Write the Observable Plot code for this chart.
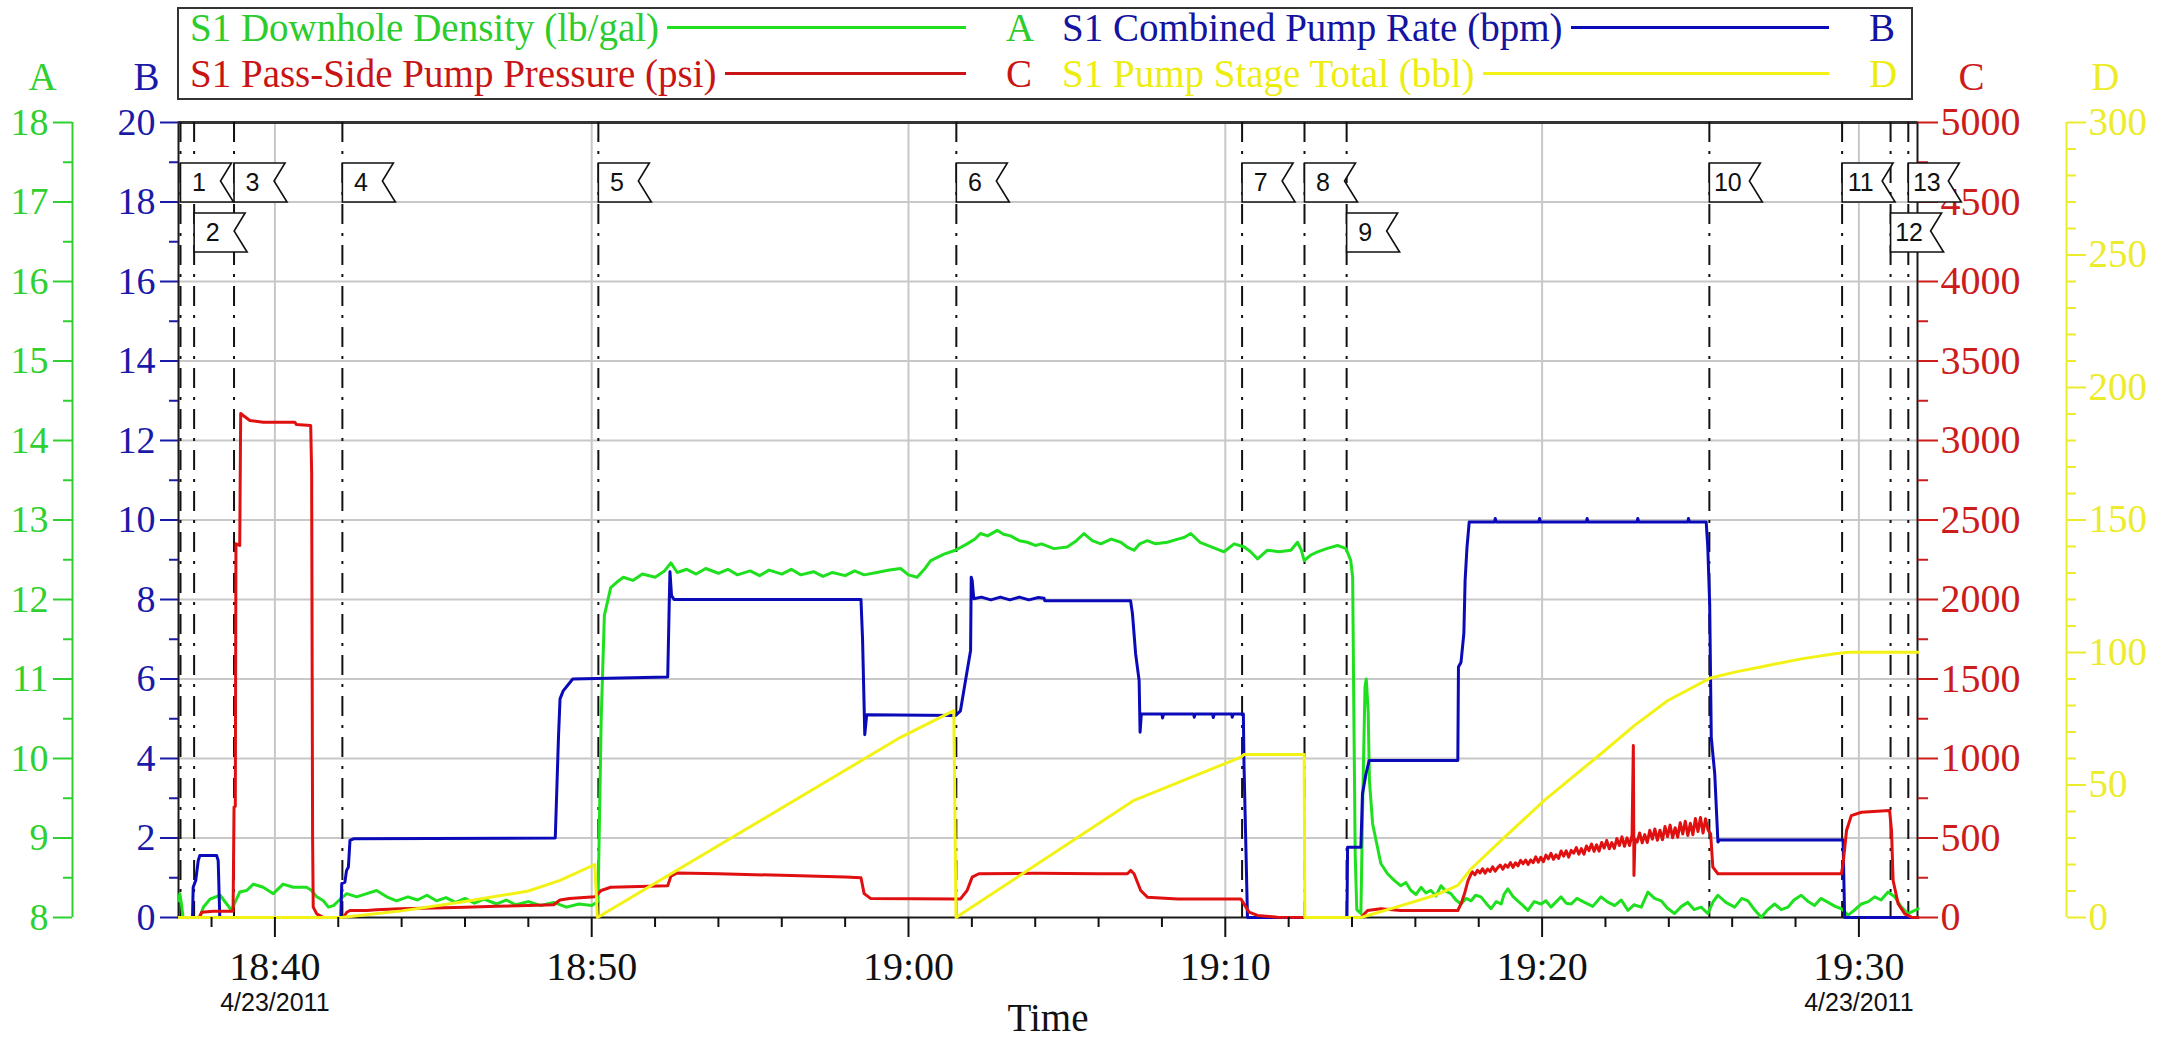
<!DOCTYPE html>
<html><head><meta charset="utf-8">
<script src="https://cdn.jsdelivr.net/npm/d3@7"></script>
<script src="https://cdn.jsdelivr.net/npm/@observablehq/plot@0.6"></script>
<style>
body{margin:0;background:#fff;}
#wrap{position:relative;width:2162px;height:1046px;overflow:hidden;font-family:"Liberation Serif","Times New Roman",serif;}
#legend{position:absolute;left:177px;top:7px;width:1736px;height:93px;border:2px solid #333;box-sizing:border-box;}
.cell{position:absolute;display:flex;align-items:center;height:46px;font-size:39px;white-space:nowrap;}
.cell .sw{flex:1;height:3px;margin:0 40px 0 8px;}
.cell .lt{width:24px;text-align:center;}
</style></head>
<body><div id="wrap"><div id="chart"></div><div id="legend"></div></div>
<script>
// ---- time helpers (minutes after 18:40 on 4/23/2011) ----
const T0 = Date.UTC(2011, 3, 23, 18, 40);
const tm = m => new Date(T0 + m * 60000);

// ---- tick labels ----
const timeTickLabels = ["18:40", "18:50", "19:00", "19:10", "19:20", "19:30"];
const dateLabel = "4/23/2011";
const rateTicks = [0, 2, 4, 6, 8, 10, 12, 14, 16, 18, 20];
const densityTicks = [8, 9, 10, 11, 12, 13, 14, 15, 16, 17, 18];
const pressureTicks = [0, 500, 1000, 1500, 2000, 2500, 3000, 3500, 4000, 4500, 5000];
const stageTicks = [0, 50, 100, 150, 200, 250, 300];

// ---- event markers ----
const eventLabels = ["1","2","3","4","5","6","7","8","9","10","11","12","13"];
const eventMinutes = [-2.98, -2.55, -1.29, 2.13, 10.21, 21.51, 30.53, 32.50, 33.83, 45.28, 49.47, 51.00, 51.56];
const eventRow = [1, 2, 1, 1, 1, 1, 1, 1, 2, 1, 1, 2, 1];

// ---- series: [minutes after 18:40, value] ----
const density = [ // S1 Downhole Density (lb/gal)
 [-3.04,8.21],[-3.0,8.30],[-2.95,8.17],[-2.9,8.0],[-2.37,8.0],[-2.26,8.13],[-2.05,8.23],[-1.73,8.28],[-1.52,8.17],[-1.37,8.09],
 [-1.26,8.19],[-1.11,8.32],[-0.89,8.34],[-0.68,8.42],[-0.37,8.38],[-0.05,8.30],[0.26,8.42],[0.58,8.38],[1.0,8.38],[1.16,8.34],
 [1.32,8.26],[1.53,8.21],[1.69,8.13],[1.85,8.15],[2.06,8.23],[2.27,8.30],[2.58,8.26],[2.90,8.30],[3.21,8.34],[3.53,8.26],[3.84,8.21],
 [4.2,8.26],[4.5,8.22],[4.8,8.28],[5.1,8.21],[5.4,8.25],[5.7,8.19],[6.0,8.24],[6.3,8.18],[6.6,8.23],[7.0,8.17],[7.3,8.22],[7.6,8.16],
 [8.0,8.2],[8.4,8.15],[8.8,8.19],[9.2,8.13],[9.6,8.17],[10.0,8.15],[10.2,8.2],[10.3,10.5],[10.4,11.8],[10.6,12.15],[10.8,12.22],
 [11.0,12.28],[11.3,12.24],[11.6,12.32],[12.0,12.28],[12.3,12.36],[12.5,12.46],[12.7,12.34],[13.0,12.38],[13.3,12.32],[13.6,12.39],
 [14.0,12.33],[14.3,12.38],[14.6,12.31],[15.0,12.36],[15.3,12.3],[15.6,12.37],[16.0,12.32],[16.3,12.38],[16.6,12.31],[17.0,12.35],
 [17.3,12.29],[17.6,12.34],[18.0,12.3],[18.3,12.36],[18.6,12.31],[19.0,12.34],[19.4,12.37],[19.75,12.39],[20.0,12.31],[20.27,12.28],
 [20.5,12.38],[20.70,12.49],[21.12,12.57],[21.48,12.62],[21.85,12.70],[22.1,12.76],[22.27,12.83],[22.5,12.8],[22.80,12.87],[23.0,12.82],
 [23.22,12.80],[23.5,12.74],[23.75,12.72],[24.0,12.68],[24.2,12.7],[24.59,12.64],[25.01,12.66],[25.3,12.74],[25.54,12.83],[25.8,12.74],
 [26.07,12.70],[26.4,12.76],[26.70,12.72],[26.9,12.66],[27.12,12.62],[27.3,12.7],[27.54,12.74],[27.8,12.7],[28.17,12.72],[28.5,12.76],
 [28.7,12.78],[28.91,12.83],[29.2,12.72],[29.44,12.68],[29.7,12.64],[29.96,12.60],[30.28,12.70],[30.6,12.66],[30.8,12.6],[31.02,12.51],
 [31.33,12.62],[31.7,12.6],[32.07,12.62],[32.28,12.72],[32.40,12.62],[32.49,12.49],[32.7,12.56],[32.91,12.60],[33.2,12.64],[33.54,12.68],
 [33.81,12.64],[33.96,12.49],[34.02,12.28],[34.06,10.5],[34.10,8.8],[34.15,8.1],[34.28,8.05],[34.34,9.5],[34.41,10.9],[34.45,11.0],
 [34.51,10.6],[34.55,9.72],[34.65,9.18],[34.91,8.68],[35.12,8.55],[35.35,8.46],[35.54,8.40],[35.7,8.44],[35.86,8.34],[36.02,8.29],
 [36.18,8.38],[36.33,8.31],[36.49,8.34],[36.65,8.27],[36.81,8.40],[36.96,8.33],[37.12,8.30],[37.28,8.22],[37.44,8.17],[37.6,8.24],
 [37.76,8.21],[37.9,8.28],[38.07,8.26],[38.23,8.18],[38.39,8.11],[38.55,8.2],[38.71,8.17],[38.8,8.29],[38.92,8.36],[39.07,8.27],
 [39.23,8.21],[39.4,8.15],[39.55,8.09],[39.75,8.2],[39.97,8.17],[40.12,8.21],[40.28,8.13],[40.45,8.2],[40.6,8.26],[40.76,8.18],
 [40.92,8.17],[41.1,8.24],[41.34,8.19],[41.6,8.14],[41.86,8.26],[42.05,8.2],[42.29,8.15],[42.5,8.22],[42.71,8.09],[42.9,8.16],
 [43.13,8.13],[43.34,8.32],[43.55,8.24],[43.76,8.21],[43.95,8.12],[44.18,8.05],[44.4,8.14],[44.6,8.19],[44.8,8.1],[45.02,8.13],
 [45.23,8.05],[45.4,8.2],[45.55,8.28],[45.8,8.19],[46.08,8.13],[46.3,8.24],[46.5,8.21],[46.7,8.1],[46.92,8.0],[47.1,8.09],
 [47.34,8.17],[47.55,8.1],[47.76,8.13],[47.95,8.22],[48.18,8.28],[48.4,8.2],[48.6,8.15],[48.8,8.24],[49.03,8.19],[49.25,8.14],
 [49.45,8.11],[49.66,8.03],[49.85,8.09],[50.08,8.17],[50.3,8.2],[50.5,8.26],[50.7,8.22],[50.92,8.32],[51.13,8.26],[51.34,8.13],
 [51.55,8.05],[51.87,8.11]
];
const rate = [ // S1 Combined Pump Rate (bpm)
 [-3.04,0],[-2.60,0],[-2.58,0.76],[-2.50,0.93],[-2.42,1.43],[-2.37,1.56],[-1.84,1.56],[-1.79,1.43],[-1.74,0],[2.08,0],[2.11,0.85],
 [2.21,0.89],[2.26,1.18],[2.32,1.27],[2.37,1.94],[2.48,1.98],[8.85,2.0],[8.95,4.5],[9.0,5.5],[9.1,5.7],[9.3,5.9],[9.4,6.0],[12.4,6.05],
 [12.45,8.0],[12.47,8.7],[12.52,8.1],[12.6,8.0],[18.5,8.0],[18.55,7.0],[18.62,4.6],[18.68,5.1],[21.48,5.08],[21.64,5.2],[21.80,5.96],
 [21.96,6.72],[21.98,8.56],[22.01,8.48],[22.06,8.02],[22.3,8.06],[22.6,7.99],[22.9,8.06],[23.2,7.99],[23.5,8.06],[23.8,7.99],[24.1,8.05],
 [24.28,8.03],[24.30,7.97],[27.01,7.97],[27.07,7.64],[27.17,6.63],[27.28,5.96],[27.31,4.66],[27.35,5.12],[28.0,5.12],[28.02,5.02],
 [28.05,5.12],[29.0,5.12],[29.02,5.04],[29.05,5.12],[29.6,5.12],[29.62,5.03],[29.65,5.12],[30.2,5.12],[30.22,5.04],[30.25,5.12],
 [30.57,5.12],[30.59,3.87],[30.65,1.77],[30.70,0],[33.84,0],[33.86,1.77],[34.28,1.77],[34.33,3.11],[34.44,3.61],[34.54,3.95],
 [37.34,3.95],[37.36,6.3],[37.44,6.42],[37.53,7.14],[37.57,8.48],[37.63,9.32],[37.70,9.95],[38.5,9.95],[38.52,10.04],[38.55,9.95],
 [39.9,9.95],[39.92,10.04],[39.95,9.95],[41.4,9.95],[41.42,10.04],[41.45,9.95],[43.0,9.95],[43.02,10.04],[43.05,9.95],[44.6,9.95],
 [44.62,10.04],[44.65,9.95],[45.18,9.95],[45.23,9.32],[45.29,7.89],[45.34,4.54],[45.45,3.61],[45.55,1.9],[45.6,1.95],[49.50,1.95],
 [49.55,0],[51.87,0]
];
const pressure = [ // S1 Pass-Side Pump Pressure (psi)
 [-3.04,0],[-2.39,0],[-2.31,33],[-1.95,40],[-1.32,40],[-1.29,694],[-1.25,700],[-1.23,2350],[-1.11,2340],[-1.08,3170],[-1.0,3157],
 [-0.79,3126],[-0.37,3115],[0.63,3115],[0.68,3100],[1.13,3094],[1.16,2800],[1.19,500],[1.21,65],[1.32,23],[1.53,0],[2.16,0],[2.27,33],
 [2.37,44],[2.90,44],[3.21,48],[3.95,55],[5,60],[6,65],[7,70],[8,75],[8.8,80],[9.0,110],[9.3,120],[10.1,130],[10.3,170],[10.6,190],
 [12.4,200],[12.5,260],[12.7,280],[14,275],[16,265],[18,255],[18.5,250],[18.6,150],[18.8,120],[21.48,117],[21.64,117],[21.85,170],
 [22.01,254],[22.22,275],[24,278],[26.0,275],[26.91,275],[27.01,296],[27.12,275],[27.33,170],[27.54,128],[28.5,117],[30.49,117],
 [30.59,86],[30.75,34],[31.02,13],[31.65,2],[34.28,0],[34.49,44],[34.91,55],[35.54,44],[37.34,44],[37.45,90],[37.55,149],[37.66,230],
 [37.76,275],[37.80,287],[37.88,268],[37.96,297],[38.04,281],[38.12,306],[38.20,279],[38.28,305],[38.36,290],[38.44,319],[38.52,291],
 [38.60,314],[38.68,330],[38.76,303],[38.84,332],[38.92,316],[39.00,345],[39.08,315],[39.16,344],[39.24,325],[39.32,359],[39.40,338],
 [39.48,361],[39.56,333],[39.64,362],[39.72,345],[39.80,381],[39.88,348],[39.96,379],[40.04,351],[40.12,392],[40.20,369],[40.28,403],
 [40.36,366],[40.44,394],[40.52,371],[40.60,418],[40.68,386],[40.76,419],[40.84,380],[40.92,422],[41.00,405],[41.08,440],[41.16,398],
 [41.24,433],[41.32,398],[41.40,450],[41.48,421],[41.56,462],[41.64,416],[41.72,457],[41.80,417],[41.88,472],[41.96,437],[42.04,485],
 [42.12,432],[42.20,471],[42.28,435],[42.36,496],[42.44,453],[42.52,507],[42.60,448],[42.68,501],[42.76,453],[42.84,518],[42.88,1082],
 [42.90,264],[42.93,492],[43.00,475],[43.08,532],[43.16,470],[43.24,521],[43.32,472],[43.40,548],[43.48,493],[43.56,557],[43.64,486],
 [43.72,549],[43.80,489],[43.88,572],[43.96,509],[44.04,581],[44.12,502],[44.20,565],[44.28,505],[44.36,596],[44.44,525],[44.52,605],
 [44.60,516],[44.68,593],[44.76,521],[44.84,622],[44.92,541],[45.00,629],[45.08,532],[45.16,621],[45.24,549],[45.32,526],[45.39,317],
 [45.55,275],[49.45,275],[49.50,338],[49.61,547],[49.76,641],[50.08,662],[50.97,673],[51.03,547],[51.08,233],[51.24,86],[51.45,23],
 [51.66,2],[51.87,0]
];
const stage = [ // S1 Pump Stage Total (bbl)
 [-3.04,0],[2.1,0],[4,2.5],[6,6],[8,10],[9,14],[10.1,20],[10.18,0],[19.75,68],[21.43,78.1],[21.50,0],[27.12,44.2],[30.49,60.5],
 [30.59,61.5],[32.49,61.5],[32.51,0],[34.28,0],[35.55,4.5],[36.6,8.3],[37.34,12.1],[37.76,18.4],[38.71,29.1],[40.07,44.2],[41.86,61.8],
 [42.92,72.5],[43.97,81.9],[45.32,90.4],[46.08,92.6],[47.13,95.1],[48.18,97.6],[49.24,99.5],[49.66,100.1],[51.87,100.1]
];

// ---- colours ----
const C = {
  green: "#1fe01f", blue: "#0a0ab8", red: "#e01010", yellow: "#f2f215",
  greenAx: "#2fd02f", blueAx: "#1a1aa8", redAx: "#cc1c1c", yellowAx: "#ecec2c",
  grid: "#c8c8c8"
};

// all series share the left "B" scale (0..20); convert the others into it
const fromDensity = v => (v - 8) * 2;
const fromPressure = v => v / 250;
const fromStage = v => v / 15;
const toRows = (arr, f) => arr.map(([m, v]) => ({t: tm(m), v: f(v)}));

const labelMin = s => { const [h, m] = s.split(":").map(Number); return h * 60 + m - (18 * 60 + 40); };
const majorTimes = timeTickLabels.map(s => tm(labelMin(s)));
const minorTimes = d3.range(-2, 52, 2).filter(m => m % 10 !== 0).map(tm);
const xDomain = [tm(-3.043), tm(51.85)];

const rateMinor = d3.range(1, 20, 2);
const densityMinor = densityTicks.slice(0, -1).map(d => d + 0.5);
const pressureMinor = pressureTicks.slice(0, -1).map(d => d + 250);
const stageMinor = d3.range(10, 300, 10).filter(d => d % 50 !== 0);

const events = eventLabels.map((id, i) => ({id, t: tm(eventMinutes[i]), row: eventRow[i]}));

const flagShape = {
  draw(ctx) {
    ctx.moveTo(0, 0); ctx.lineTo(0, -39); ctx.lineTo(51, -39);
    ctx.lineTo(40, -21); ctx.lineTo(53, 0); ctx.closePath();
  }
};

const serif = "Liberation Serif, Times New Roman, serif";
const sans = "Liberation Sans, Arial, sans-serif";
const plain = d => String(Math.round(d));

const chart = Plot.plot({
  width: 2162, height: 1046,
  marginLeft: 178, marginRight: 245, marginTop: 122, marginBottom: 129,
  x: {type: "utc", domain: xDomain, label: null},
  y: {domain: [0, 20], label: null},
  style: {fontFamily: serif, background: "white", overflow: "visible"},
  marks: [
    Plot.ruleY(rateTicks.filter(d => d > 0 && d < 20), {stroke: C.grid, strokeWidth: 2}),
    Plot.ruleX(majorTimes, {stroke: C.grid, strokeWidth: 2}),
    Plot.frame({stroke: "#1a1a1a", strokeWidth: 2}),
    Plot.ruleY([20], {stroke: "#333", strokeWidth: 3}),
    Plot.ruleX(events, {x: "t", stroke: "#111", strokeWidth: 2, strokeDasharray: "20,9,3,9"}),
    Plot.line(toRows(density, fromDensity), {x: "t", y: "v", stroke: C.green, strokeWidth: 3}),
    Plot.line(toRows(rate, v => v), {x: "t", y: "v", stroke: C.blue, strokeWidth: 3}),
    Plot.line(toRows(pressure, fromPressure), {x: "t", y: "v", stroke: C.red, strokeWidth: 3}),
    Plot.line(toRows(stage, fromStage), {x: "t", y: "v", stroke: C.yellow, strokeWidth: 3}),
    // B axis (rate) on the frame's left edge
    Plot.axisY(rateTicks, {anchor: "left", tickSize: 18, tickPadding: 5, fontSize: 38, color: C.blueAx, strokeWidth: 2, tickFormat: plain, label: null, fontFamily: serif}),
    Plot.axisY(rateMinor, {anchor: "left", tickSize: 9, tickFormat: () => "", color: C.blueAx, strokeWidth: 2, label: null}),
    // A axis (density), offset to the left
    Plot.ruleX([xDomain[0]], {dx: -106, y1: 0, y2: 20, stroke: C.greenAx, strokeWidth: 2}),
    Plot.axisY(densityTicks.map(fromDensity), {anchor: "left", dx: -106, tickSize: 19, tickPadding: 5, fontSize: 38, color: C.greenAx, strokeWidth: 2, tickFormat: d => plain(d / 2 + 8), label: null, fontFamily: serif}),
    Plot.axisY(densityMinor.map(fromDensity), {anchor: "left", dx: -106, tickSize: 9, tickFormat: () => "", color: C.greenAx, strokeWidth: 2, label: null}),
    // C axis (pressure) on the frame's right edge
    Plot.axisY(pressureTicks.map(fromPressure), {anchor: "right", tickSize: 20, tickPadding: 3, fontSize: 40, color: C.redAx, strokeWidth: 2, tickFormat: d => plain(d * 250), label: null, fontFamily: serif}),
    Plot.axisY(pressureMinor.map(fromPressure), {anchor: "right", tickSize: 10, tickFormat: () => "", color: C.redAx, strokeWidth: 2, label: null}),
    // D axis (stage total), offset to the right
    Plot.ruleX([xDomain[1]], {dx: 149, y1: 0, y2: 20, stroke: C.yellowAx, strokeWidth: 2}),
    Plot.axisY(stageTicks.map(fromStage), {anchor: "right", dx: 149, tickSize: 19, tickPadding: 3, fontSize: 39, color: C.yellowAx, strokeWidth: 2, tickFormat: d => plain(d * 15), label: null, fontFamily: serif}),
    Plot.axisY(stageMinor.map(fromStage), {anchor: "right", dx: 149, tickSize: 9, tickFormat: () => "", color: C.yellowAx, strokeWidth: 2, label: null}),
    // time axis
    Plot.axisX(majorTimes, {anchor: "bottom", tickSize: 20, tickPadding: 14, fontSize: 40, tickFormat: d3.utcFormat("%H:%M"), color: "#111", strokeWidth: 2, label: null, fontFamily: serif}),
    Plot.axisX(minorTimes, {anchor: "bottom", tickSize: 10, tickFormat: () => "", color: "#111", strokeWidth: 2, label: null}),
    Plot.axisX([majorTimes[0], majorTimes[majorTimes.length - 1]], {anchor: "bottom", tickSize: 0, tickPadding: 76, fontSize: 25, tickFormat: () => dateLabel, color: "#111", label: null, fontFamily: sans}),
    Plot.text(["Time"], {frameAnchor: "bottom", dy: 113, text: d => d, fontSize: 39, fill: "#111", fontFamily: serif}),
    // event flags
    Plot.dot(events.filter(d => d.row === 1), {x: "t", y: () => 18, symbol: flagShape, fill: "white", stroke: "#111", strokeWidth: 1.6}),
    Plot.dot(events.filter(d => d.row === 2), {x: "t", y: () => 18, dy: 50, symbol: flagShape, fill: "white", stroke: "#111", strokeWidth: 1.6}),
    Plot.text(events.filter(d => d.row === 1), {x: "t", y: () => 18, text: "id", dx: 18.5, dy: -19.5, fontSize: 25, fill: "#111", fontFamily: sans}),
    Plot.text(events.filter(d => d.row === 2), {x: "t", y: () => 18, text: "id", dx: 18.5, dy: 30.5, fontSize: 25, fill: "#111", fontFamily: sans}),
    // axis letters
    Plot.text(["A"], {frameAnchor: "top-left", dx: -150, dy: -60, text: d => d, fontSize: 39, fill: C.greenAx, fontFamily: serif}),
    Plot.text(["B"], {frameAnchor: "top-left", dx: -45, dy: -60, text: d => d, fontSize: 39, fill: C.blueAx, fontFamily: serif}),
    Plot.text(["C"], {frameAnchor: "top-right", dx: 67, dy: -60, text: d => d, fontSize: 39, fill: C.redAx, fontFamily: serif}),
    Plot.text(["D"], {frameAnchor: "top-right", dx: 202, dy: -60, text: d => d, fontSize: 39, fill: C.yellowAx, fontFamily: serif})
  ]
});
document.getElementById("chart").appendChild(chart);

// ---- legend (HTML, above the plot frame) ----
const legendItems = [
  {name: "S1 Downhole Density (lb/gal)", key: "A", color: C.green, text: "#2ccc2c", left: 190, top: 4},
  {name: "S1 Combined Pump Rate (bpm)", key: "B", color: C.blue, text: "#1414a0", left: 1062, top: 4},
  {name: "S1 Pass-Side Pump Pressure (psi)", key: "C", color: "#c81414", text: "#c81414", left: 190, top: 50},
  {name: "S1 Pump Stage Total (bbl)", key: "D", color: C.yellow, text: "#eded10", left: 1062, top: 50}
];
const wrap = document.getElementById("wrap");
for (const it of legendItems) {
  const cell = document.createElement("div");
  cell.className = "cell";
  cell.style.left = it.left + "px";
  cell.style.top = it.top + "px";
  cell.style.width = (it.left === 190 ? 840 : 831) + "px";
  cell.innerHTML = `<span style="color:${it.text}">${it.name}</span><span class="sw" style="background:${it.color}"></span><span class="lt" style="color:${it.text}">${it.key}</span>`;
  wrap.appendChild(cell);
}
</script>
</body></html>
